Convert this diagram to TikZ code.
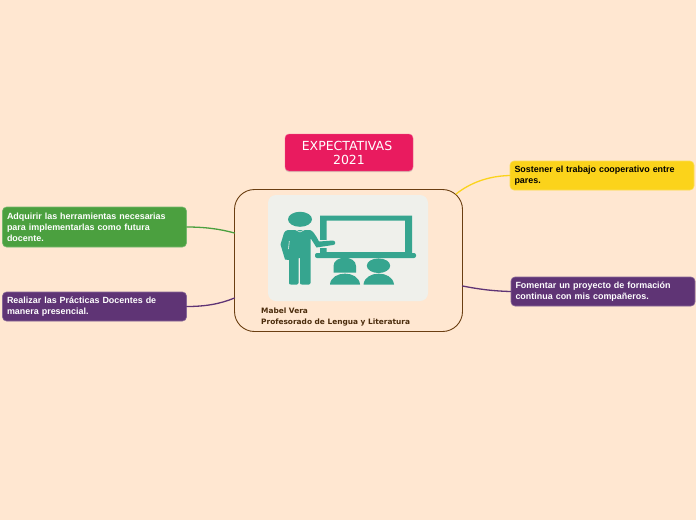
\documentclass[tikz,border=0pt]{standalone}
\usepackage{fontspec}
\usetikzlibrary{shadows}
\setmainfont{Liberation Sans}
\newfontfamily\dejavu{DejaVu Sans}
\definecolor{fondo}{HTML}{FFE7D1}
\definecolor{cafe}{HTML}{6B3F12}
\definecolor{rosa}{HTML}{E91B5F}
\definecolor{verde}{HTML}{4BA03F}
\definecolor{morado}{HTML}{5F3475}
\definecolor{amarillo}{HTML}{FBD31B}
\definecolor{gris}{HTML}{EFF0EB}
\definecolor{teal}{HTML}{36A58F}
\tikzset{
	idea/.style={draw=#1!75!white, line width=.6pt, fill=#1, rounded corners=4pt, minimum width=184pt, text width=175pt, align=left, inner sep=0pt, font=\bfseries\fontsize{8.95}{10.9}\selectfont, text=white},
	rama/.style={line width=1.3pt, line cap=round},
	pie/.style={anchor=west, inner sep=0pt, text=cafe!70!black, font=\dejavu\bfseries\fontsize{7.4}{8}\selectfont}
}
\begin{document}
\begin{tikzpicture}[x=1pt,y=-1pt]
	\useasboundingbox[fill=fondo] (0,0) rectangle (696,520);
	% ramas
	\coordinate (a) at (234.5,233);
	\coordinate (b) at (234.5,298);
	\coordinate (c) at (456,194);
	\coordinate (d) at (462.5,286);
	% centro
	\node[draw=cafe, line width=.9pt, rounded corners=20pt, minimum width=228pt, minimum height=142pt, inner sep=0pt] (centro) at (348.5,260.5) {};
	\node[fill=rosa, draw=rosa!70!white, rounded corners=4pt, minimum width=128pt, minimum height=37pt, inner sep=0pt, align=center, text=white, drop shadow={shadow xshift=0pt, shadow yshift=-1.2pt, opacity=.3}, font=\dejavu\fontsize{12.5}{14}\selectfont] (titulo) at (349,152.5) {EXPECTATIVAS\rule{4pt}{0pt}\\ 2021};
	\node[idea=verde, minimum height=40pt] (adquirir) at (94.5,227) {Adquirir las herramientas necesarias\\ para implementarlas como futura\\ docente.};
	\node[idea=morado, minimum height=29pt] (realizar) at (94.5,306.5) {Realizar las Prácticas Docentes de\\ manera presencial.};
	\node[idea=amarillo, minimum height=29pt, text=black] (sostener) at (602,175.5) {Sostener el trabajo cooperativo entre\\ pares.};
	\node[idea=morado, minimum height=29pt] (fomentar) at (603,291.5) {Fomentar un proyecto de formación\\ continua con mis compañeros.};
	\draw[rama, verde] (adquirir.east) .. controls (205,227) and (220,229) .. (a);
	\draw[rama, morado] (realizar.east) .. controls (205,306.5) and (220,304) .. (b);
	\draw[rama, amarillo] (sostener.west) .. controls (488,176) and (470,183) .. (c);
	\draw[rama, morado] (fomentar.west) .. controls (492,291) and (478,289) .. (d);
	% dibujo
	\fill[gris, rounded corners=8pt] (268,195) rectangle (428,301);
	\fill[teal, even odd rule] (320,215.7) rectangle (412,253.5) (326.7,220.5) rectangle (405,252);
	\fill[gris] (319.9,240) rectangle (326.7,248);
	\fill[teal, rounded corners=2pt] (315,253) rectangle (416,258);
	\fill[teal] (300,219.3) ellipse (12 and 7.5);
	\fill[teal, line join=round] (288,230) -- (310,230) .. controls (313,231) and (315,234) .. (319,241.5) -- (333,240.5) .. controls (336,241) and (336,245) .. (333,245) -- (316.5,247.5) -- (310.5,238) -- (310.5,283) .. controls (310.5,284) and (310,284.5) .. (309,284.5) -- (302,284.5) .. controls (300.5,284.5) and (300,284) .. (300,283) -- (300,258) -- (298.7,258) -- (298.7,283) .. controls (298.7,284) and (298,284.5) .. (297,284.5) -- (291,284.5) .. controls (289.5,284.5) and (289,284) .. (289,283) -- (289,260) -- (285,259.5) -- (280.5,244.5) -- (284,233) .. controls (285,231) and (286,230.5) .. (288,230) -- cycle;
	\draw[gris, line width=.6pt] (295.5,229.7) -- (300,232) -- (304.5,229.7) (289.3,241) -- (288.5,249);
	\fill[teal] (333.5,272.5) -- (333.5,266) .. controls (333.5,255) and (356,255) .. (356,266) -- (356,272.5) -- cycle;
	\fill[teal] (330,284.5) .. controls (331,270) and (359,270) .. (360,284.5) -- cycle;
	\fill[teal] (378.5,265.7) ellipse (11.7 and 7.3);
	\fill[teal] (363.5,284.5) .. controls (365,270) and (392.5,270) .. (394,284.5) -- cycle;
	\node[pie] (autora) at (261,310.5) {Mabel Vera};
	\node[pie] (carrera) at (261,322.5) {Profesorado de Lengua y Literatura};
\end{tikzpicture}
\end{document}
